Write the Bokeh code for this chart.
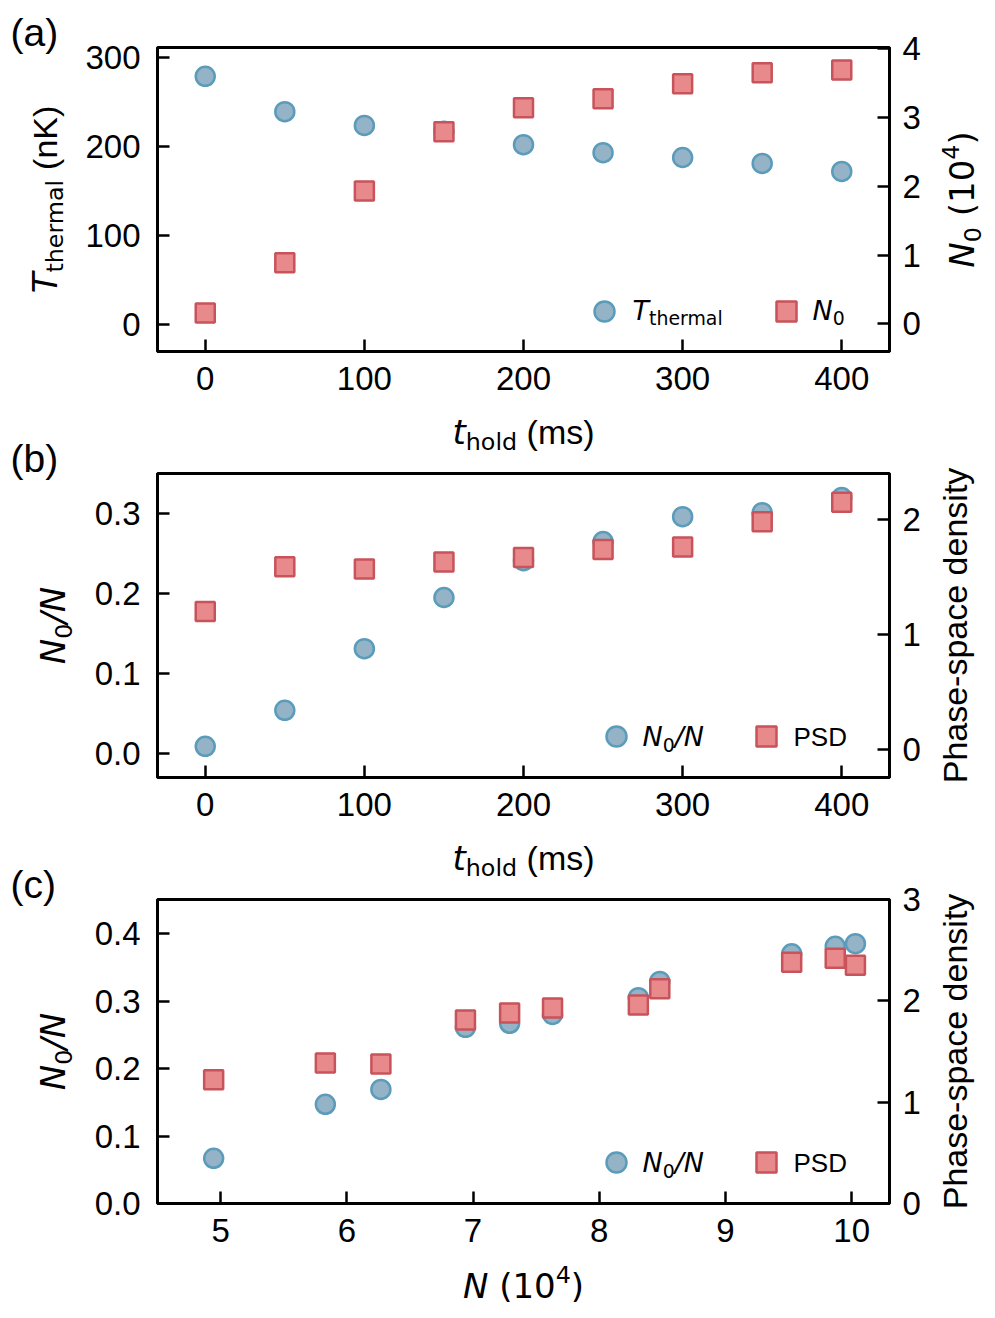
import math
from bokeh.plotting import figure
from bokeh.models import Range1d, LinearAxis, FixedTicker, Label, Legend, LegendItem, NumeralTickFormatter
from bokeh.layouts import column, row
from bokeh.embed import file_html
from bokeh.resources import INLINE

# ---------------- data ----------------
t_hold = [0, 50, 100, 150, 200, 250, 300, 350, 400]
T_thermal = [278.7, 239, 223.6, 217, 202, 193, 187.6, 181, 172]
N0_a = [0.16, 0.89, 1.93, 2.79, 3.14, 3.27, 3.49, 3.65, 3.69]

frac_b = [0.009, 0.054, 0.131, 0.195, 0.241, 0.265, 0.296, 0.301, 0.320]
psd_b = [1.20, 1.59, 1.57, 1.63, 1.67, 1.74, 1.76, 1.98, 2.15]

N_c = [4.945, 5.83, 6.27, 6.94, 7.29, 7.63, 8.31, 8.48, 9.525, 9.87, 10.03]
frac_c = [0.067, 0.147, 0.169, 0.261, 0.267, 0.280, 0.305, 0.329, 0.370, 0.381, 0.385]
psd_c = [1.22, 1.386, 1.376, 1.81, 1.88, 1.93, 1.96, 2.12, 2.38, 2.42, 2.35]

xticks_t = [0, 100, 200, 300, 400]
yticks_a_left = [0, 100, 200, 300]
yticks_a_right = [0, 1, 2, 3, 4]
yticks_b_left = [0.0, 0.1, 0.2, 0.3]
yticks_b_right = [0, 1, 2]
xticks_c = [5, 6, 7, 8, 9, 10]
yticks_c_left = [0.0, 0.1, 0.2, 0.3, 0.4]
yticks_c_right = [0, 1, 2, 3]

# ---------------- style ----------------
C_FILL, C_LINE = "#95b3c7", "#5a9cba"
S_FILL, S_LINE = "#e8898c", "#c8535a"
TICK_FONT = "Liberation Sans"
TICK_SIZE = "33px"
LAB = 34
LEG = 27
MATH = "DejaVu Sans"
TEXT = "Liberation Sans"
K_MID = 0.38          # baseline -> middle-of-box offset (em)

FW, FH = 732, 304
LSTRIP = 79
BL = 157 - LSTRIP
BR = 40
MAIN_W = BL + FW + BR
RSTRIP = 995 - LSTRIP - MAIN_W
TOPS = [47, 17, 17]
BOTS = [60, 60, 55]
XSTRIP = [45, 45, 59]
H_TOTAL = sum(t + FH + b + s for t, b, s in zip(TOPS, BOTS, XSTRIP))
FRAME_LEFT = 157

W_DEJAVU = {' ': 318, '(': 390, ')': 390, '/': 337, '-': 361, 'N': 748, 'T': 611, 'K': 656,
            'a': 613, 'd': 635, 'e': 615, 'h': 634, 'l': 278, 'm': 974, 'n': 634, 'o': 612,
            'r': 411, 's': 521, 't': 392, 'S': 635, 'P': 603, 'D': 770}
W_LIB = {' ': 278, '(': 333, ')': 333, '/': 278, '-': 333, 'N': 722, 'T': 611, 'K': 667,
         'a': 556, 'd': 556, 'e': 556, 'h': 556, 'l': 222, 'm': 833, 'n': 556, 'o': 556,
         'r': 333, 's': 500, 't': 278, 'P': 667, 'S': 667, 'D': 722, 'c': 500, 'p': 556,
         'i': 222, 'y': 500}


def text_width(txt, font, size):
    tab = W_DEJAVU if font == MATH else W_LIB
    tot = 0
    for ch in txt:
        if ch.isdigit():
            tot += 636 if font == MATH else 556
        else:
            tot += tab.get(ch, 556)
    return tot * size / 1000.0


def put(p, text, x, y, font, size, style="normal", angle=0.0):
    """Place text whose alphabetic baseline starts at (x, y) (frame screen units, y up)."""
    if angle == 0:
        ax, ay = x, y + K_MID * size
    else:
        ax, ay = x - K_MID * size, y
    p.add_layout(Label(x=ax, y=ay, x_units="screen", y_units="screen", text=text,
                       text_font=font, text_font_size=f"{size:.1f}px", text_font_style=style,
                       text_color="black", angle=angle, text_align="left",
                       text_baseline="middle"))


def rich(p, pieces, x0, y0, angle=0.0, align="center"):
    """pieces: (text, font, size, style, shift) ; shift>0 moves baseline down (subscript)."""
    widths = [text_width(t, f, s) for (t, f, s, st, sh) in pieces]
    total = sum(widths)
    cur = -total / 2 if align == "center" else 0.0
    for (t, f, s, st, sh), w in zip(pieces, widths):
        lead = len(t) - len(t.lstrip(" "))
        off = text_width(" " * lead, f, s)
        txt = t.strip(" ")
        if angle == 0:
            put(p, txt, x0 + cur + off, y0 - sh, f, s, st, 0.0)
        else:
            put(p, txt, x0 + sh, y0 + cur + off, f, s, st, angle)
        cur += w


def make_fig(i, xr, yl, yr, xt, ylt, yrt, left_fmt=None):
    p = figure(frame_width=FW, frame_height=FH, x_range=Range1d(*xr), y_range=Range1d(*yl),
               output_backend="svg", toolbar_location=None,
               min_border_left=BL, min_border_right=BR, min_border_top=TOPS[i],
               min_border_bottom=BOTS[i])
    p.extra_y_ranges = {"r": Range1d(*yr)}
    p.add_layout(LinearAxis(y_range_name="r"), "right")
    p.xgrid.visible = False
    p.ygrid.visible = False
    p.outline_line_color = "black"
    p.outline_line_width = 3
    p.outline_line_alpha = 1
    p.background_fill_color = "white"
    p.border_fill_color = "white"
    axes = [p.xaxis[0], p.yaxis[0], p.yaxis[1]]
    ticks = [xt, ylt, yrt]
    stand = [15, 17, 13]
    for ax, tk, sd in zip(axes, ticks, stand):
        ax.ticker = FixedTicker(ticks=tk)
        ax.major_tick_in = 12
        ax.major_tick_out = 0
        ax.minor_tick_in = 0
        ax.minor_tick_out = 0
        ax.major_tick_line_width = 2.5
        ax.major_tick_line_color = "black"
        ax.axis_line_width = 3
        ax.axis_line_color = "black"
        ax.major_label_text_font = TICK_FONT
        ax.major_label_text_font_size = TICK_SIZE
        ax.major_label_text_color = "black"
        ax.major_label_standoff = sd
    if left_fmt:
        p.yaxis[0].formatter = NumeralTickFormatter(format=left_fmt)
    return p


def strip_fig(w, h):
    s = figure(width=w, height=h, x_range=Range1d(0, w), y_range=Range1d(0, h),
               output_backend="svg", toolbar_location=None, x_axis_location=None,
               y_axis_location=None, min_border=0, title_location=None)
    s.outline_line_color = None
    s.grid.visible = False
    s.background_fill_color = "white"
    s.border_fill_color = "white"
    return s


def key(p, r, cx, cy):
    leg = Legend(items=[LegendItem(label=" ", renderers=[r])], location=(cx - 25, cy - 25),
                 glyph_width=50, glyph_height=50, padding=0, margin=0, spacing=0,
                 label_standoff=0, label_width=0, label_height=0,
                 border_line_alpha=0, background_fill_alpha=0, label_text_font_size="1px")
    p.add_layout(leg)


def circles(p, x, y, rng="default"):
    return p.scatter(x, y, marker="circle", size=19, fill_color=C_FILL, line_color=C_LINE,
                     line_width=2.5, y_range_name=rng)


def squares(p, x, y, rng="default"):
    return p.scatter(x, y, marker="square", size=19, fill_color=S_FILL, line_color=S_LINE,
                     line_width=2.5, y_range_name=rng)


SUB = 0.7
DROP = 0.2

N0_over_N = lambda s: [("N", MATH, s, "italic", 0), ("0", MATH, s * SUB, "normal", s * DROP),
                       ("/", MATH, s, "italic", 0), ("N", MATH, s, "italic", 0)]
T_HOLD_LABEL = [("t", MATH, LAB, "italic", 0), ("hold", MATH, LAB * SUB, "normal", LAB * DROP),
                (" (ms)", TEXT, LAB, "normal", 0)]

# ---------------- panel (a) ----------------
pa = make_fig(0, (-30, 430), (-30, 311), (-0.4, 4.015), xticks_t, yticks_a_left, yticks_a_right)
ra1 = circles(pa, t_hold, T_thermal)
ra2 = squares(pa, t_hold, N0_a, "r")
key(pa, ra1, 447, 40)
key(pa, ra2, 629, 40)
rich(pa, [("T", MATH, LEG, "italic", 0), ("thermal", MATH, LEG * SUB, "normal", 5)], 475, 31, align="left")
rich(pa, [("N", MATH, LEG, "italic", 0), ("0", MATH, LEG * SUB, "normal", 5)], 655, 31, align="left")

# ---------------- panel (b) ----------------
pb = make_fig(1, (-30, 430), (-0.03, 0.35), (-0.243, 2.4), xticks_t, yticks_b_left, yticks_b_right,
              left_fmt="0.0")
rb1 = circles(pb, t_hold, frac_b)
rb2 = squares(pb, t_hold, psd_b, "r")
key(pb, rb1, 459, 41)
key(pb, rb2, 609, 41)
rich(pb, N0_over_N(LEG), 485, 31, align="left")
rich(pb, [("PSD", TEXT, 26, "normal", 0)], 636, 31, align="left")

# ---------------- panel (c) ----------------
pc = make_fig(2, (4.5, 10.3), (0.0, 0.4504), (0.0, 3.0), xticks_c, yticks_c_left, yticks_c_right,
              left_fmt="0.0")
rc1 = circles(pc, N_c, frac_c)
rc2 = squares(pc, N_c, psd_c, "r")
key(pc, rc1, 459, 41)
key(pc, rc2, 609, 41)
rich(pc, N0_over_N(LEG), 485, 31, align="left")
rich(pc, [("PSD", TEXT, 26, "normal", 0)], 636, 31, align="left")

# ---------------- x-axis title strips (their frames align with the panels' frames) ----------------
XC = 523 - FRAME_LEFT
xa = strip_fig(MAIN_W, XSTRIP[0])
rich(xa, T_HOLD_LABEL, XC, 12)
xb = strip_fig(MAIN_W, XSTRIP[1])
rich(xb, T_HOLD_LABEL, XC, 12)
xc = strip_fig(MAIN_W, XSTRIP[2])
rich(xc, [("N", MATH, LAB, "italic", 0), (" (10", MATH, LAB, "normal", 0),
          ("4", MATH, LAB * SUB, "normal", -LAB * 0.45), (")", MATH, LAB, "normal", 0)],
     XC, 19)

# ---------------- side strips: panel letters and y-axis titles ----------------
left = strip_fig(LSTRIP, H_TOTAL)
right = strip_fig(RSTRIP, H_TOTAL)


def py(page_y):
    return H_TOTAL - page_y


frame_tops = []
acc = 0
for t, b, s in zip(TOPS, BOTS, XSTRIP):
    frame_tops.append(acc + t)
    acc += t + FH + b + s

for letter, ft in zip(["(a)", "(b)", "(c)"], frame_tops):
    put(left, letter, 10, py(ft), TEXT, 39)

rich(left, [("T", MATH, LAB, "italic", 0), ("thermal", MATH, LAB * SUB, "normal", LAB * DROP),
            (" (nK)", TEXT, LAB, "normal", 0)], 57, py(frame_tops[0] + FH / 2), angle=math.pi / 2)
for ft in frame_tops[1:]:
    rich(left, N0_over_N(LAB), 65, py(ft + FH / 2), angle=math.pi / 2)

RX0 = LSTRIP + MAIN_W
rich(right, [("N", MATH, LAB, "italic", 0), ("0", MATH, LAB * SUB, "normal", LAB * DROP),
             (" (10", MATH, LAB, "normal", 0), ("4", MATH, LAB * SUB, "normal", -LAB * 0.45),
             (")", MATH, LAB, "normal", 0)], 974 - RX0, py(frame_tops[0] + FH / 2), angle=math.pi / 2)
for ft in frame_tops[1:]:
    rich(right, [("Phase-space density", TEXT, LAB, "normal", 0)], 967 - RX0, py(ft + FH / 2),
         angle=math.pi / 2)

layout = row(left, column(pa, xa, pb, xb, pc, xc, spacing=0), right, spacing=0)
open("out.html", "w").write(file_html(layout, INLINE))
